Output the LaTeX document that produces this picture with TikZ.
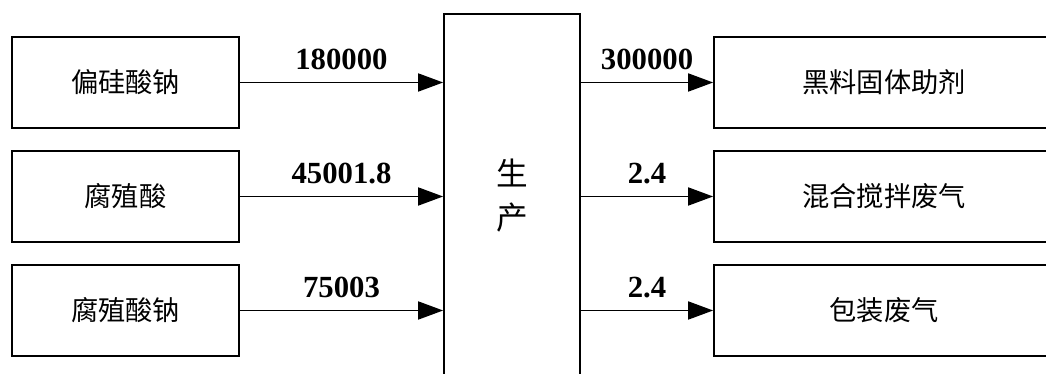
\documentclass[tikz,border=0pt]{standalone}
\usepackage{fontspec}
\setmainfont{Liberation Serif}
\newfontfamily\cjk{Noto Sans CJK SC}
\usetikzlibrary{arrows.meta,positioning}

\begin{document}
\begin{tikzpicture}[x=0.02cm, y=0.02cm,
    stuff/.style={draw, line width=1pt, minimum width=4.54cm, minimum height=1.82cm,
        inner sep=0pt, font=\cjk\fontsize{15.5}{18}\selectfont},
    waste/.style={stuff, minimum width=6.8cm},
    flow/.style={line width=1pt, -{Triangle[length=0.5cm,width=0.36cm]}},
    qty/.style={above=6.5pt, inner sep=0pt, font=\fontsize{17.5}{20}\selectfont\bfseries}]
    % Frame to fix the page
    \useasboundingbox (0,0) rectangle (1046,374);
    \clip (0,0) rectangle (1046,374);
    % Raw materials
    \node[stuff] (silicate) at (125.5,291.5) {偏硅酸钠};
    \node[stuff] (humic)    at (125.5,177.5) {腐殖酸};
    \node[stuff] (humate)   at (125.5, 63.5) {腐殖酸钠};
    % Production
    \node[draw, line width=1pt, minimum width=2.72cm, minimum height=7.28cm, align=center,
        font=\cjk\fontsize{18}{25}\selectfont] (prod) at (512,178) {生\\产};
    % Outputs
    \node[waste] (product) at (884,291.5) {黑料固体助剂};
    \node[waste] (mixgas)  at (884,177.5) {混合搅拌废气};
    \node[waste] (packgas) at (884, 63.5) {包装废气};
    % Inflows
    \draw[flow] (silicate.east) -- (silicate.east -| prod.west) node[midway, qty] {180000};
    \draw[flow] (humic.east)    -- (humic.east -| prod.west)    node[midway, qty] {45001.8};
    \draw[flow] (humate.east)   -- (humate.east -| prod.west)   node[midway, qty] {75003};
    % Outflows
    \draw[flow] (prod.east |- product.west) -- (product.west) node[midway, qty] {300000};
    \draw[flow] (prod.east |- mixgas.west)  -- (mixgas.west)  node[midway, qty] {2.4};
    \draw[flow] (prod.east |- packgas.west) -- (packgas.west) node[midway, qty] {2.4};
\end{tikzpicture}
\end{document}
